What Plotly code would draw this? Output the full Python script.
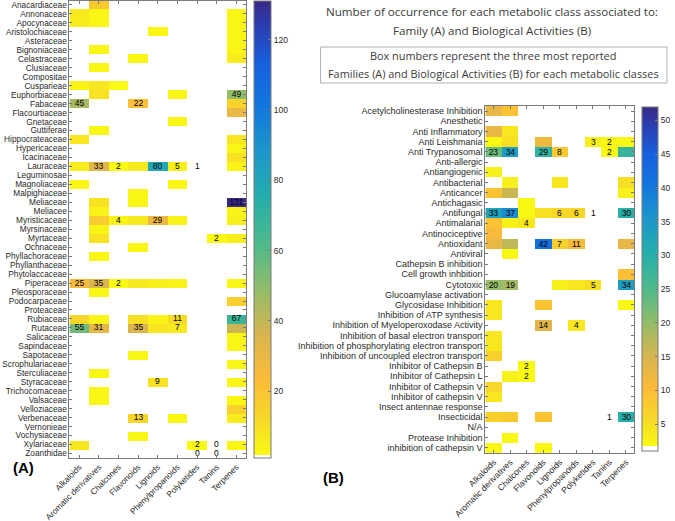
import plotly.graph_objects as go

N = None
CLASSES = ["Alkaloids", "Aromatic derivatives", "Chalcones", "Flavonoids", "Lignoids",
           "Phenylpropanoids", "Polyketides", "Tanins", "Terpenes"]

# ---------------- Panel A: Families ----------------
FAMILIES = ["Anacardiaceae", "Annonaceae", "Apocynaceae", "Aristolochiaceae", "Asteraceae",
            "Bignoniaceae", "Celastraceae", "Clusiaceae", "Compositae", "Cusparieae",
            "Euphorbiaceae", "Fabaceae", "Flacourtiaceae", "Gnetaceae", "Guttiferae",
            "Hippocrateaceae", "Hypericaceae", "Icacinaceae", "Lauraceae", "Leguminosae",
            "Magnoliaceae", "Malpighiaceae", "Meliaceae", "Meliacee", "Myristicaceae",
            "Myrsinaceae", "Myrtaceae", "Ochnaceae", "Phyllachoraceae", "Phyllanthaceae",
            "Phytolaccaceae", "Piperaceae", "Pleosporaceae", "Podocarpaceae", "Proteaceae",
            "Rubiaceae", "Rutaceae", "Salicaceae", "Sapindaceae", "Sapotaceae",
            "Scrophulariaceae", "Sterculiaceae", "Styracaceae", "Trichocomaceae", "Valsaceae",
            "Velloziaceae", "Verbenaceae", "Vernonieae", "Vochysiaceae", "Xylariaceae",
            "Zoanthidae"]

FAMILY_VALUES = [
    [N, 18, N, N, N, N, N, N, N],      # Anacardiaceae
    [7, 3, N, N, N, N, N, N, 3],       # Annonaceae
    [6, 3, N, N, N, N, N, N, 3],       # Apocynaceae
    [N, N, N, N, 3, N, N, N, 3],       # Aristolochiaceae
    [N, N, N, N, N, N, N, N, 3],       # Asteraceae
    [N, 3, N, N, N, N, N, N, 3],       # Bignoniaceae
    [N, N, N, 3, N, N, N, N, 6],       # Celastraceae
    [N, 3, N, N, N, N, N, N, N],       # Clusiaceae
    [N, N, N, N, N, N, N, N, N],       # Compositae
    [4, 8, 2, N, N, N, N, N, N],       # Cusparieae
    [N, 9, N, N, N, 3, N, N, 49],      # Euphorbiaceae
    [45, N, N, 22, N, N, N, N, 14],    # Fabaceae
    [N, N, N, N, N, N, N, N, 30],      # Flacourtiaceae
    [N, N, N, N, N, 3, N, N, N],       # Gnetaceae
    [N, 3, N, N, N, N, N, N, N],       # Guttiferae
    [8, N, N, N, N, N, N, N, 8],       # Hippocrateaceae
    [N, N, N, N, N, N, N, N, 3],       # Hypericaceae
    [N, N, N, N, N, N, N, N, 9],       # Icacinaceae
    [6, 33, 2, 7, 80, 5, 1, N, 4],     # Lauraceae
    [N, N, N, N, N, N, N, N, N],       # Leguminosae
    [3, N, N, N, N, 3, N, N, N],       # Magnoliaceae
    [N, N, N, 3, N, N, N, N, N],       # Malpighiaceae
    [N, 9, N, 3, N, N, N, N, 131],     # Meliaceae
    [N, 4, N, N, N, N, N, N, 4],       # Meliacee
    [N, 17, 4, 7, 29, 4, N, N, 5],     # Myristicaceae
    [N, 3, N, N, N, N, N, N, N],       # Myrsinaceae
    [N, 9, N, N, N, N, N, 2, 5],       # Myrtaceae
    [N, N, N, 3, N, N, N, N, N],       # Ochnaceae
    [N, 3, N, N, N, N, N, N, N],       # Phyllachoraceae
    [N, N, N, N, N, N, N, N, N],       # Phyllanthaceae
    [N, N, N, N, N, N, N, N, N],       # Phytolaccaceae
    [25, 35, 2, 7, 5, 4, N, N, 3],     # Piperaceae
    [N, 3, N, N, N, N, N, N, N],       # Pleosporaceae
    [N, N, N, N, N, N, N, N, 16],      # Podocarpaceae
    [N, N, N, N, N, N, N, N, N],       # Proteaceae
    [13, 4, N, 10, 4, 11, N, N, 67],   # Rubiaceae
    [55, 31, N, 35, 8, 7, N, N, 38],   # Rutaceae
    [N, N, N, N, N, N, N, N, 3],       # Salicaceae
    [N, N, N, N, N, N, N, N, 3],       # Sapindaceae
    [N, N, N, 3, N, N, N, N, N],       # Sapotaceae
    [N, N, N, N, N, N, N, N, 3],       # Scrophulariaceae
    [N, 3, N, N, N, N, N, N, N],       # Sterculiaceae
    [N, N, N, N, 9, N, N, N, 3],       # Styracaceae
    [N, 3, N, N, N, N, N, N, N],       # Trichocomaceae
    [N, 3, N, N, N, N, N, N, 3],       # Valsaceae
    [N, N, N, N, N, N, N, N, 15],      # Velloziaceae
    [N, N, N, 13, N, 3, N, N, 6],      # Verbenaceae
    [N, N, N, N, N, N, N, N, N],       # Vernonieae
    [N, N, N, 3, N, N, N, N, N],       # Vochysiaceae
    [8, N, N, N, N, N, 2, 0, 3],       # Xylariaceae
    [N, N, N, N, N, N, 0, 0, N],       # Zoanthidae
]

FAMILY_LABELED = [
    ("Fabaceae", "Alkaloids"), ("Piperaceae", "Alkaloids"), ("Rutaceae", "Alkaloids"),
    ("Lauraceae", "Aromatic derivatives"), ("Piperaceae", "Aromatic derivatives"), ("Rutaceae", "Aromatic derivatives"),
    ("Lauraceae", "Chalcones"), ("Myristicaceae", "Chalcones"), ("Piperaceae", "Chalcones"),
    ("Fabaceae", "Flavonoids"), ("Rutaceae", "Flavonoids"), ("Verbenaceae", "Flavonoids"),
    ("Lauraceae", "Lignoids"), ("Myristicaceae", "Lignoids"), ("Styracaceae", "Lignoids"),
    ("Lauraceae", "Phenylpropanoids"), ("Rubiaceae", "Phenylpropanoids"), ("Rutaceae", "Phenylpropanoids"),
    ("Lauraceae", "Polyketides"), ("Xylariaceae", "Polyketides"), ("Zoanthidae", "Polyketides"),
    ("Myrtaceae", "Tanins"), ("Xylariaceae", "Tanins"), ("Zoanthidae", "Tanins"),
    ("Euphorbiaceae", "Terpenes"), ("Meliaceae", "Terpenes"), ("Rubiaceae", "Terpenes"),
]

# ---------------- Panel B: Biological activities ----------------
ACTIVITIES = ["Acetylcholinesterase Inhibition", "Anesthetic", "Anti Inflammatory", "Anti Leishmania",
              "Anti Trypanosomal", "Anti-allergic", "Antiangiogenic", "Antibacterial", "Anticancer",
              "Antichagasic", "Antifungal", "Antimalarial", "Antinociceptive", "Antioxidant",
              "Antiviral", "Cathepsin B inhibition", "Cell growth inhbition", "Cytotoxic",
              "Glucoamylase activation", "Glycosidase Inhibition", "Inhibition of ATP synthesis",
              "Inhibition of Myeloperoxodase Activity", "Inhibition of basal electron transport",
              "Inhibition of phosphorylating electron transport",
              "Inhibition of uncoupled electron transport", "Inhibitor of Cathepsin B",
              "Inhibitor of Cathepsin L", "Inhibitor of Cathepsin V", "Inhibitor of cathepsin V",
              "Insect antennae response", "Insecticidal", "N/A", "Protease Inhibition",
              "inhibition of cathepsin V"]

ACTIVITY_VALUES = [
    [13, 9, N, N, N, N, N, N, N],      # Acetylcholinesterase Inhibition
    [N, N, N, N, N, N, N, N, N],       # Anesthetic
    [13, 4, N, N, N, N, N, N, N],      # Anti Inflammatory
    [2, 5, N, 12, N, N, 3, 2, 2],      # Anti Leishmania
    [23, 34, N, 29, 8, N, N, 2, 28],   # Anti Trypanosomal
    [N, N, N, N, N, N, N, N, N],       # Anti-allergic
    [3, N, N, N, N, N, N, N, N],       # Antiangiogenic
    [N, 3, N, N, 4, N, N, N, 5],       # Antibacterial
    [9, 16, N, N, N, N, N, N, 3],      # Anticancer
    [N, N, 2, N, N, N, N, N, N],       # Antichagasic
    [33, 37, 2, 5, 6, 6, 1, N, 30],    # Antifungal
    [9, 3, 4, N, N, N, N, N, N],       # Antimalarial
    [11, N, N, N, N, N, N, N, N],      # Antinociceptive
    [13, 17, N, 42, 7, 11, N, N, 13],  # Antioxidant
    [N, 2, N, N, N, N, N, N, N],       # Antiviral
    [N, N, N, N, N, N, N, N, N],       # Cathepsin B inhibition
    [N, N, N, N, N, N, N, N, 10],      # Cell growth inhbition
    [20, 19, N, N, 3, 4, 5, N, 34],    # Cytotoxic
    [N, N, N, N, N, N, N, N, N],       # Glucoamylase activation
    [4, N, N, 9, N, N, N, N, 2],       # Glycosidase Inhibition
    [4, N, N, N, N, N, N, N, N],       # Inhibition of ATP synthesis
    [N, N, N, 14, N, 4, N, N, N],      # Inhibition of Myeloperoxodase Activity
    [4, N, N, N, N, N, N, N, N],       # basal electron transport
    [4, N, N, N, N, N, N, N, N],       # phosphorylating electron transport
    [7, N, N, N, N, N, N, N, N],       # uncoupled electron transport
    [N, N, 2, N, N, N, N, N, N],       # Inhibitor of Cathepsin B
    [N, 3, 2, N, N, N, N, N, N],       # Inhibitor of Cathepsin L
    [6, N, N, N, N, N, N, N, N],       # Inhibitor of Cathepsin V
    [4, N, N, N, N, N, N, N, N],       # Inhibitor of cathepsin V
    [N, N, N, N, N, N, N, N, N],       # Insect antennae response
    [7, 8, N, 9, N, N, N, 1, 30],      # Insecticidal
    [N, N, N, N, N, N, N, N, N],       # N/A
    [N, 2, N, N, N, N, N, N, N],       # Protease Inhibition
    [2, N, N, 2, N, N, N, N, N],       # inhibition of cathepsin V
]

ACTIVITY_LABELED = [
    ("Anti Trypanosomal", "Alkaloids"), ("Antifungal", "Alkaloids"), ("Cytotoxic", "Alkaloids"),
    ("Anti Trypanosomal", "Aromatic derivatives"), ("Antifungal", "Aromatic derivatives"), ("Cytotoxic", "Aromatic derivatives"),
    ("Antimalarial", "Chalcones"), ("Inhibitor of Cathepsin B", "Chalcones"), ("Inhibitor of Cathepsin L", "Chalcones"),
    ("Anti Trypanosomal", "Flavonoids"), ("Antioxidant", "Flavonoids"), ("Inhibition of Myeloperoxodase Activity", "Flavonoids"),
    ("Anti Trypanosomal", "Lignoids"), ("Antifungal", "Lignoids"), ("Antioxidant", "Lignoids"),
    ("Antifungal", "Phenylpropanoids"), ("Antioxidant", "Phenylpropanoids"), ("Inhibition of Myeloperoxodase Activity", "Phenylpropanoids"),
    ("Anti Leishmania", "Polyketides"), ("Antifungal", "Polyketides"), ("Cytotoxic", "Polyketides"),
    ("Anti Leishmania", "Tanins"), ("Anti Trypanosomal", "Tanins"), ("Insecticidal", "Tanins"),
    ("Antifungal", "Terpenes"), ("Cytotoxic", "Terpenes"), ("Insecticidal", "Terpenes"),
]

A_RANGE = [1, 131]
B_RANGE = [1, 52]
A_TICKS = [20, 40, 60, 80, 100, 120]
B_TICKS = [5, 10, 15, 20, 25, 30, 35, 40, 45, 50]

# ---------------- styling ----------------
W, H = 675, 521
FONT = "Liberation Sans, Arial, sans-serif"
AXC = "#7a7a7a"
TXT = "#2a2a2a"


def px(x):
    return x / W


def py(y):
    return 1 - y / H


PARULA_R = [(0.00, (249, 250, 20)), (0.08, (247, 216, 40)), (0.17, (252, 187, 56)),
            (0.26, (218, 181, 78)), (0.36, (150, 188, 104)), (0.46, (80, 186, 138)),
            (0.57, (36, 174, 172)), (0.67, (28, 150, 202)), (0.77, (18, 118, 222)),
            (0.86, (22, 96, 222)), (0.94, (42, 64, 180)), (1.00, (55, 42, 135))]


def colorscale(white_frac):
    cs = [[0.0, "white"], [white_frac, "white"]]
    for t, (r, g, b) in PARULA_R:
        tt = white_frac + t * (1 - white_frac)
        cs.append([tt, f"rgb({r},{g},{b})"])
    return cs


def text_matrix(rows, values, labeled):
    txt = [["" for _ in CLASSES] for _ in rows]
    for r, c in labeled:
        i, j = rows.index(r), CLASSES.index(c)
        txt[i][j] = str(values[i][j])
    return txt


def axis_common(size):
    return dict(showline=True, linecolor=AXC, linewidth=1, mirror="ticks", ticks="inside",
                ticklen=3, tickcolor=AXC, tickwidth=1, showgrid=False, zeroline=False,
                automargin=False, ticklabeloverflow="allow",
                tickfont=dict(family=FONT, size=size, color=TXT))


fig = go.Figure()

fig.add_trace(go.Heatmap(
    z=FAMILY_VALUES, x=list(range(len(CLASSES))), y=list(range(len(FAMILIES))),
    text=text_matrix(FAMILIES, FAMILY_VALUES, FAMILY_LABELED), texttemplate="%{text}",
    textfont=dict(family=FONT, size=8.5, color="black"),
    zmin=A_RANGE[0], zmax=A_RANGE[1], colorscale=colorscale(0.006), hoverongaps=False,
    xaxis="x", yaxis="y",
    colorbar=dict(x=px(256), xanchor="left", xpad=0, y=py(229.5), yanchor="middle", ypad=0,
                  len=457, lenmode="pixels", thickness=17, thicknessmode="pixels",
                  outlinewidth=1, outlinecolor=AXC, tickvals=A_TICKS, ticks="inside",
                  ticklen=3, tickcolor=AXC, tickfont=dict(family=FONT, size=8.5, color=TXT)),
))

fig.add_trace(go.Heatmap(
    z=ACTIVITY_VALUES, x=list(range(len(CLASSES))), y=list(range(len(ACTIVITIES))),
    text=text_matrix(ACTIVITIES, ACTIVITY_VALUES, ACTIVITY_LABELED), texttemplate="%{text}",
    textfont=dict(family=FONT, size=8.5, color="black"),
    zmin=B_RANGE[0], zmax=B_RANGE[1], colorscale=colorscale(0.015), hoverongaps=False,
    xaxis="x2", yaxis="y2",
    colorbar=dict(x=px(647), xanchor="left", xpad=0, y=py(279), yanchor="middle", ypad=0,
                  len=344, lenmode="pixels", thickness=16, thicknessmode="pixels",
                  outlinewidth=1, outlinecolor=AXC, tickvals=B_TICKS, ticks="inside",
                  ticklen=3, tickcolor=AXC, tickfont=dict(family=FONT, size=8.5, color=TXT)),
))

TITLE_FONT = dict(family="Open Sans", size=11.6, color="#3a3a3a")
BOX_FONT = dict(family="Open Sans", size=10.9, color="#3a3a3a")
ann = []
ann.append(dict(text="Number of occurrence for each metabolic class associated to:",
                x=px(496), y=py(12), font=TITLE_FONT))
ann.append(dict(text="Family (A) and Biological Activities (B)",
                x=px(496), y=py(31), font=TITLE_FONT))
ann.append(dict(text="Box numbers represent the three most reported",
                x=px(497), y=py(56), font=BOX_FONT))
ann.append(dict(text="Families (A) and Biological Activities (B) for each metabolic classes",
                x=px(497), y=py(74), font=BOX_FONT))
ann.append(dict(text="<b>(A)</b>", x=px(24), y=py(467),
                font=dict(family=FONT, size=15, color="black")))
ann.append(dict(text="<b>(B)</b>", x=px(336), y=py(477),
                font=dict(family=FONT, size=15, color="black")))
for a in ann:
    a.update(xref="paper", yref="paper", showarrow=False, xanchor="center", yanchor="middle")

fig.update_layout(
    width=W, height=H, margin=dict(l=0, r=0, t=0, b=0),
    paper_bgcolor="white", plot_bgcolor="white", showlegend=False,
    xaxis=dict(domain=[px(70), px(248)], anchor="y", range=[-0.5, 8.5],
               tickvals=list(range(len(CLASSES))), ticktext=CLASSES, tickangle=-45,
               **axis_common(8.3)),
    yaxis=dict(domain=[py(458), py(0.5)], anchor="x", range=[len(FAMILIES) - 0.5, -0.5],
               tickvals=list(range(len(FAMILIES))), ticktext=FAMILIES, **axis_common(8.3)),
    xaxis2=dict(domain=[px(489), px(639)], anchor="y2", range=[-0.5, 8.5],
                tickvals=list(range(len(CLASSES))), ticktext=CLASSES, tickangle=-45,
                **axis_common(8.6)),
    yaxis2=dict(domain=[py(452.8), py(106)], anchor="x2", range=[len(ACTIVITIES) - 0.5, -0.5],
                tickvals=list(range(len(ACTIVITIES))), ticktext=ACTIVITIES, **axis_common(9)),
    annotations=ann,
    shapes=[dict(type="rect", xref="paper", yref="paper", x0=px(323), x1=px(672),
                 y0=py(83), y1=py(47), line=dict(color="#b0b0b0", width=1))],
)

# the page's default 8px body margin would offset the figure; remove it
fig.write_html("out.html", config={"displayModeBar": False},
               post_script="document.body.style.margin='0px';")
